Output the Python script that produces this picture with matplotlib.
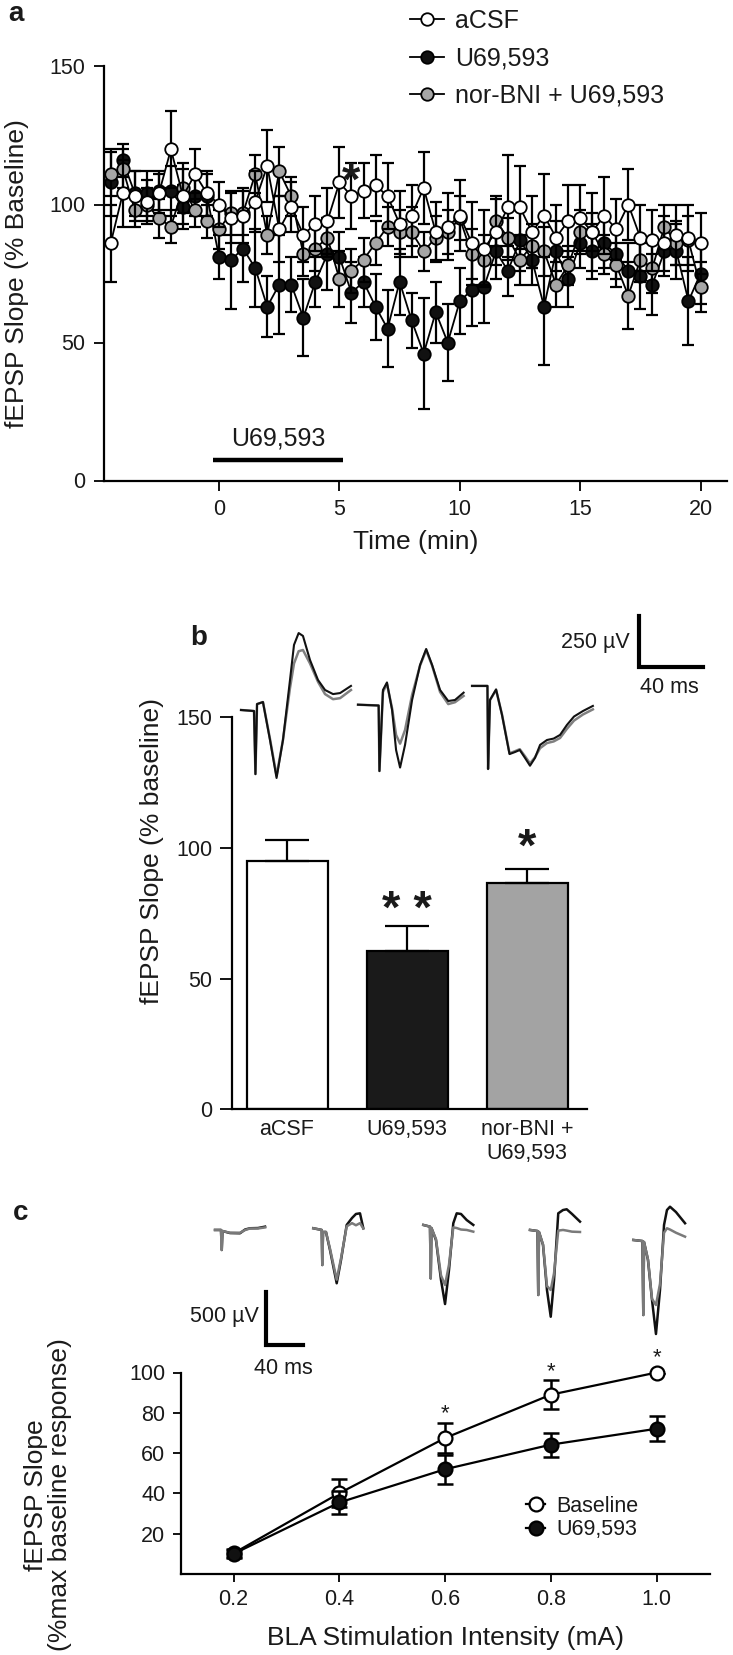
import matplotlib
matplotlib.use("Agg")
import matplotlib.pyplot as plt

plt.rcParams['font.family'] = ['Liberation Sans', 'DejaVu Sans']
plt.rcParams['text.color'] = '#1a1a1a'
plt.rcParams['axes.labelcolor'] = '#1a1a1a'
plt.rcParams['xtick.color'] = 'black'
plt.rcParams['ytick.color'] = 'black'
plt.rcParams['xtick.labelcolor'] = '#1a1a1a'
plt.rcParams['ytick.labelcolor'] = '#1a1a1a'

# ---------------- data: panel a (time course) ----------------
time_min = [-4.5, -4, -3.5, -3, -2.5, -2, -1.5, -1, -0.5, 0,
            0.5, 1, 1.5, 2, 2.5, 3, 3.5, 4, 4.5, 5,
            5.5, 6, 6.5, 7, 7.5, 8, 8.5, 9, 9.5, 10,
            10.5, 11, 11.5, 12, 12.5, 13, 13.5, 14, 14.5, 15,
            15.5, 16, 16.5, 17, 17.5, 18, 18.5, 19, 19.5, 20]
acsf = [86, 104, 103, 101, 104, 120, 103, 111, 104, 100,
        95, 96, 101, 114, 91, 99, 89, 93, 94, 108,
        103, 105, 107, 103, 93, 96, 106, 90, 92, 96,
        86, 84, 90, 99, 99, 90, 96, 88, 94, 95,
        90, 96, 91, 100, 88, 87, 86, 89, 88, 86]
acsf_err = [14, 12, 9, 8, 7, 14, 10, 9, 8, 8,
            9, 10, 11, 13, 12, 9, 10, 10, 12, 13,
            12, 10, 11, 12, 12, 11, 13, 11, 12, 13,
            15, 14, 12, 19, 15, 13, 15, 12, 13, 12,
            14, 14, 11, 13, 12, 11, 10, 11, 12, 11]
u69 = [108, 116, 104, 104, 105, 105, 99, 103, 103, 81,
       80, 84, 77, 63, 71, 71, 59, 72, 82, 81,
       68, 72, 63, 55, 72, 58, 46, 61, 50, 65,
       69, 70, 83, 76, 87, 80, 63, 83, 73, 86,
       83, 86, 82, 76, 74, 71, 83, 83, 65, 75]
u69_err = [12, 6, 8, 8, 7, 9, 8, 7, 8, 8,
           18, 12, 14, 11, 18, 10, 14, 9, 13, 9,
           11, 9, 12, 14, 12, 10, 20, 11, 14, 12,
           13, 13, 10, 9, 11, 9, 21, 11, 10, 9,
           10, 9, 9, 10, 12, 11, 9, 10, 16, 11]
norbni = [111, 113, 98, 100, 95, 92, 106, 98, 94, 91,
          97, 97, 111, 89, 112, 103, 82, 84, 88, 73,
          76, 80, 86, 92, 90, 90, 83, 88, 90, 95,
          82, 80, 94, 88, 80, 85, 83, 71, 78, 90,
          90, 82, 78, 67, 80, 77, 92, 86, 87, 70]
norbni_err = [8, 7, 6, 6, 7, 6, 9, 6, 6, 7,
              8, 8, 7, 7, 9, 7, 8, 8, 7, 10,
              8, 8, 8, 7, 8, 9, 7, 8, 8, 8,
              9, 9, 9, 7, 9, 8, 9, 8, 7, 8,
              7, 7, 8, 12, 8, 9, 8, 8, 9, 9]
drug_on, drug_off = -0.25, 5.15

# ---------------- data: panel b (bars) ----------------
groups = ['aCSF', 'U69,593', 'nor-BNI +\nU69,593']
bar_means = [94.8, 60.7, 86.5]
bar_sem = [8.0, 9.2, 5.5]
bar_colors = ['white', '#1a1a1a', '#a3a3a3']
bar_stars = ['', '* *', '*']
star_levels = [0, 75.9, 99.6]

# example traces for panel b (ms, uV)
b1_ms = [6.9, 15.0, 15.9, 16.9, 20.6, 25.0, 29.1, 33.1, 37.5, 40.0, 42.9, 45.6, 50.0, 55.0, 59.4, 64.4, 68.8, 75.6]
b1_pre = [392, 387, 78, 421, 431, 245, 59, 245, 539, 711, 769, 755, 637, 539, 490, 470, 475, 510]
b1_post = [392, 387, 78, 421, 431, 250, 70, 245, 500, 620, 680, 686, 620, 530, 470, 445, 450, 490]
b2_ms = [80.0, 92.9, 93.4, 95.6, 98.1, 101.3, 103.8, 106.3, 109.4, 113.8, 118.8, 122.6, 126.3, 131.3, 136.4, 140.6, 146.0]
b2_pre = [418, 414, 93, 490, 527, 392, 196, 110, 221, 441, 613, 691, 613, 490, 436, 441, 477]
b2_post = [418, 414, 93, 480, 520, 400, 270, 227, 294, 466, 610, 685, 610, 480, 421, 430, 461]
b3_ms = [151.3, 160.9, 161.3, 162.5, 166.3, 170.0, 174.7, 178.1, 181.1, 184.4, 187.5, 190.6, 193.8, 198.1, 202.3, 206.3, 210.6, 215.0, 220.6, 226.8]
b3_pre = [510, 510, 103, 441, 493, 368, 176, 186, 196, 157, 119, 157, 221, 245, 252, 270, 319, 360, 387, 412]
b3_post = [510, 510, 103, 441, 490, 370, 180, 190, 200, 165, 130, 160, 205, 230, 238, 255, 300, 340, 370, 395]

# ---------------- data: panel c (input-output) ----------------
intensity = [0.2, 0.4, 0.6, 0.8, 1.0]
baseline = [10.3, 40.1, 67.5, 89.0, 100.0]
baseline_err = [2.0, 7.0, 7.6, 7.3, 0.0]
u69_io = [10.0, 35.5, 52.0, 64.2, 72.1]
u69_io_err = [2.0, 5.6, 7.2, 6.0, 6.3]
io_stars = [(0.6, 79.5), (0.8, 100.5), (1.0, 107.5)]

c1_ms = [38.2, 44.7, 45.5, 46.3, 54.5, 65.4, 70.9, 76.3, 85.0, 92.7]
c1_pre = [1126, 1126, 938, 1116, 1097, 1095, 1130, 1142, 1144, 1157]
c1_post = [1126, 1126, 938, 1116, 1100, 1100, 1125, 1140, 1140, 1150]
c2_ms = [145.3, 154.5, 155.1, 155.9, 159.1, 163.5, 170.8, 175.5, 181.7, 187.5, 191.8, 196.2, 199.8]
c2_pre = [1142, 1126, 797, 1107, 1107, 938, 626, 844, 1173, 1238, 1276, 1282, 1142]
c2_post = [1142, 1126, 797, 1107, 1107, 950, 660, 860, 1160, 1190, 1170, 1190, 1140]
c3_ms = [265.2, 272.5, 273.3, 274.1, 279.0, 284.5, 288.9, 293.2, 297.9, 301.6, 306.3, 312.5, 319.7]
c3_pre = [1173, 1157, 672, 1144, 1032, 657, 431, 750, 1189, 1282, 1276, 1219, 1173]
c3_post = [1173, 1157, 672, 1144, 1040, 700, 610, 800, 1150, 1144, 1130, 1126, 1110]
c4_ms = [381.5, 389.7, 390.5, 391.3, 395.7, 400.0, 404.1, 407.7, 412.3, 417.5, 421.5, 427.3, 436.0]
c4_pre = [1126, 1116, 516, 1107, 985, 563, 312, 657, 1282, 1313, 1320, 1276, 1204]
c4_post = [1126, 1116, 516, 1107, 990, 600, 563, 720, 1120, 1126, 1120, 1110, 1107]
c5_ms = [494.1, 504.1, 505.0, 505.8, 510.1, 514.5, 518.8, 523.2, 527.6, 530.8, 534.1, 540.6, 550.5]
c5_pre = [1032, 1022, 328, 1013, 844, 469, 150, 563, 1173, 1313, 1344, 1294, 1189]
c5_post = [1032, 1022, 328, 1013, 850, 480, 422, 620, 1100, 1142, 1130, 1100, 1063]

W, H = 733, 1655
TICK = 15.5
LABEL = 19


def box(left, top, right, bottom):
    # pixel box -> figure fraction rect
    return [left / W, 1 - bottom / H, (right - left) / W, (bottom - top) / H]


def style(ax, ticklen=7.5, pad=5):
    for s in ['top', 'right']:
        ax.spines[s].set_visible(False)
    for s in ['left', 'bottom']:
        ax.spines[s].set_linewidth(1.6)
    ax.tick_params(direction='out', length=ticklen, width=1.3, labelsize=TICK, pad=pad)


fig = plt.figure(figsize=(W / 100, H / 100), dpi=100)

# ---------------- panel a ----------------
ax = fig.add_axes(box(104, 66.5, 727, 480.5))
style(ax, ticklen=7.5, pad=6)
ax.set_xlim(-4.78, 21.1)
ax.set_ylim(0, 150)
ax.set_xticks([0, 5, 10, 15, 20])
ax.set_yticks([0, 50, 100, 150])

series = [(u69, u69_err, '#111111', 'U69,593', 3),
          (norbni, norbni_err, '#a6a6a6', 'nor-BNI + U69,593', 5),
          (acsf, acsf_err, 'white', 'aCSF', 7)]
handles = {}
for vals, err, fill, name, z in series:
    ax.errorbar(time_min, vals, yerr=err, fmt='none', ecolor='black',
                elinewidth=1.6, capsize=4.3, capthick=1.6, zorder=z)
    ln, = ax.plot(time_min, vals, '-o', color='black', lw=1.3, mfc=fill,
                  mec='black', mew=1.3, ms=9, zorder=z + 0.5, clip_on=False)
    handles[name] = ln

ax.plot([drug_on, drug_off], [7.5, 7.5], color='black', lw=3.2, solid_capstyle='butt')
ax.text((drug_on + drug_off) / 2, 11, 'U69,593', ha='center', va='bottom', fontsize=18)
ax.text(5.5, 108, '*', ha='center', va='center', fontsize=34, fontweight='bold', zorder=10)
ax.set_xlabel('Time (min)', fontsize=LABEL, labelpad=7)
fig.text(17 / W, 1 - 273.5 / H, 'fEPSP Slope (% Baseline)', rotation=90,
         ha='center', va='center', fontsize=LABEL)

names_a = ['aCSF', 'U69,593', 'nor-BNI + U69,593']
fig.legend([handles[n] for n in names_a], names_a, loc='upper left',
           bbox_to_anchor=(410 / W, 1 - 9 / H), frameon=False, fontsize=18,
           borderpad=0, borderaxespad=0, handlelength=1.35, handletextpad=0.45,
           labelspacing=0.54, numpoints=1)
fig.text(8 / W, 1 - 14 / H, 'a', fontsize=20, fontweight='bold', va='center')

# ---------------- panel b ----------------
bx = fig.add_axes(box(231.7, 717, 587, 1109.3))
style(bx, ticklen=9, pad=5)
xpos = list(range(len(groups)))
bx.bar(xpos, bar_means, width=0.675, color=bar_colors, edgecolor='black', linewidth=1.6, zorder=2)
bx.errorbar(xpos, bar_means, yerr=[[0] * 3, bar_sem], fmt='none', ecolor='black',
            elinewidth=1.6, capsize=15.5, capthick=1.6, zorder=3)
for x, lvl, s in zip(xpos, star_levels, bar_stars):
    if s:
        bx.text(x, lvl, s, ha='center', va='center', fontsize=34, fontweight='bold')
bx.set_xlim(-0.461, 2.5)
bx.set_ylim(0, 150)
bx.set_yticks([0, 50, 100, 150])
bx.set_xticks(xpos)
bx.set_xticklabels(groups)
bx.tick_params(axis='x', length=0, pad=7)
fig.text(152 / W, 1 - 851 / H, 'fEPSP Slope (% baseline)', rotation=90,
         ha='center', va='center', fontsize=LABEL)
fig.text(190 / W, 1 - 638 / H, 'b', fontsize=20, fontweight='bold', va='center')

# traces above the bars
tb = fig.add_axes(box(230, 600, 710, 790))
tb.set_xlim(0, 300)
tb.set_ylim(0, 931)
tb.axis('off')
for ms, pre, post in [(b1_ms, b1_pre, b1_post), (b2_ms, b2_pre, b2_post), (b3_ms, b3_pre, b3_post)]:
    tb.plot(ms, post, color='#808080', lw=1.8)
    tb.plot(ms, pre, color='#111111', lw=1.5)
sbx, sby = 255.6, 602.7
tb.plot([sbx, sbx, sbx + 40], [sby + 250, sby, sby], color='black', lw=3, solid_joinstyle='miter')
tb.text(sbx - 6, sby + 120, '250 µV', ha='right', va='center', fontsize=TICK)
tb.text(sbx + 19, sby - 100, '40 ms', ha='center', va='center', fontsize=TICK)

# ---------------- panel c ----------------
cx = fig.add_axes(box(180.7, 1372.5, 709.6, 1574))
style(cx, ticklen=6, pad=5)
cx.set_xlim(0.1, 1.1)
cx.set_ylim(0, 100)
cx.set_xticks(intensity)
cx.set_xticklabels(['0.2', '0.4', '0.6', '0.8', '1.0'])
cx.set_yticks([20, 40, 60, 80, 100])
cx.errorbar(intensity, baseline, yerr=baseline_err, fmt='none', ecolor='black',
            elinewidth=1.8, capsize=6, capthick=1.8, zorder=3)
hb, = cx.plot(intensity, baseline, '-o', color='black', lw=1.6, mfc='white', mec='black',
              mew=1.6, ms=10, zorder=4, clip_on=False)
cx.errorbar(intensity, u69_io, yerr=u69_io_err, fmt='none', ecolor='black',
            elinewidth=1.8, capsize=6, capthick=1.8, zorder=5)
hu, = cx.plot(intensity, u69_io, '-o', color='black', lw=1.6, mfc='#111111', mec='black',
              mew=1.6, ms=10, zorder=6, clip_on=False)
for x, y in io_stars:
    cx.text(x, y, '*', ha='center', va='center', fontsize=16, clip_on=False)
cx.set_xlabel('BLA Stimulation Intensity (mA)', fontsize=LABEL, labelpad=11)
fig.text(48 / W, 1 - 1495 / H, 'fEPSP Slope\n(%max baseline response)', rotation=90,
         ha='center', va='center', fontsize=LABEL, linespacing=1.05)
fig.legend([hb, hu], ['Baseline', 'U69,593'], loc='upper left',
           bbox_to_anchor=(526 / W, 1 - 1496 / H), frameon=False, fontsize=TICK,
           borderpad=0, borderaxespad=0, handlelength=0.9, handletextpad=0.5,
           labelspacing=0.1, numpoints=1)
fig.text(13 / W, 1 - 1213 / H, 'c', fontsize=20, fontweight='bold', va='center')

# traces above the curves
tc = fig.add_axes(box(180, 1180, 720, 1350))
tc.set_xlim(0, 588.6)
tc.set_ylim(0, 1594.6)
tc.axis('off')
for ms, pre, post in [(c1_ms, c1_pre, c1_post), (c2_ms, c2_pre, c2_post), (c3_ms, c3_pre, c3_post),
                      (c4_ms, c4_pre, c4_post), (c5_ms, c5_pre, c5_post)]:
    tc.plot(ms, pre, color='#111111', lw=1.8)
    tc.plot(ms, post, color='#7a7a7a', lw=1.8)
scx, scy = 93.7, 47
tc.plot([scx, scx, scx + 40], [scy + 500, scy, scy], color='black', lw=3, solid_joinstyle='miter')
tc.text(scx - 8, scy + 265, '500 µV', ha='right', va='center', fontsize=TICK)
tc.text(scx + 19, scy - 216, '40 ms', ha='center', va='center', fontsize=TICK, clip_on=False)

fig.savefig('out.png', dpi=100)
